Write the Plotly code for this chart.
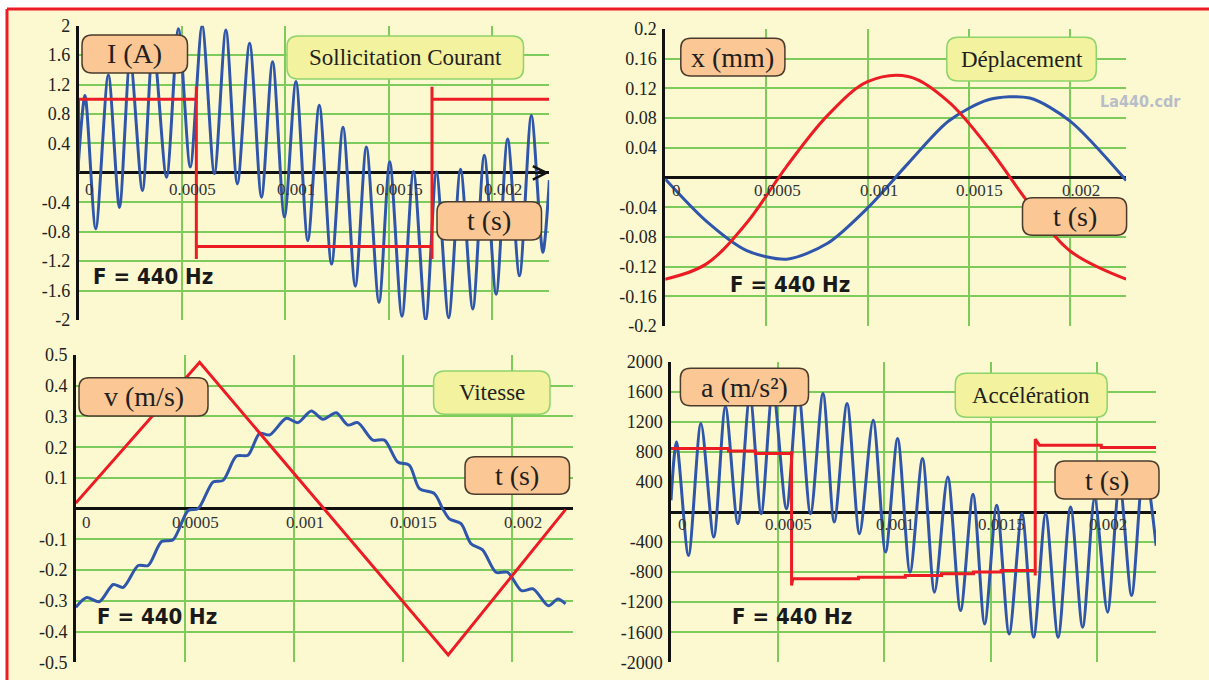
import plotly.graph_objects as go

W, H = 1209, 680

# ---------------------------------------------------------------- data
# I (A) : sollicitation courant
i_t = [0, 0.0000315, 0.0000833, 0.0001444, 0.0001981, 0.00025, 0.0003093, 0.0003611,
       0.0004259, 0.0004833, 0.0005407, 0.0005981, 0.0006574, 0.000713, 0.0007685,
       0.0008278, 0.0008852, 0.0009389, 0.0009963, 0.0010519, 0.0011093, 0.0011648,
       0.0012241, 0.0012796, 0.0013389, 0.0013926, 0.0014537, 0.0015056, 0.0015648,
       0.0016204, 0.0016796, 0.0017315, 0.0017907, 0.0018481, 0.0019074, 0.001963,
       0.0020204, 0.0020759, 0.0021333, 0.0021907, 0.0022463, 0.0022778]
i_blue = [0.15, 1.05, -0.76, 1.33, -0.47, 1.55, -0.24, 1.76, -0.06, 1.96, 0.08, 2.0,
          -0.01, 1.94, -0.15, 1.76, -0.33, 1.51, -0.60, 1.24, -0.92, 0.92, -1.24, 0.62,
          -1.54, 0.35, -1.76, 0.15, -1.95, 0.02, -2.0, 0.01, -1.97, 0.05, -1.85, 0.24,
          -1.65, 0.46, -1.40, 0.78, -1.08, -0.10]
i_red_t = [0, 0, 0.00057, 0.00057, 0.00057, 0.00057, 0.00171, 0.00171, 0.00171, 0.00171, 0.002277]
i_red = [0, 1, 1, 1.17, -1.17, -1, -1, -1.17, 1.17, 1, 1]

# x (mm) : deplacement
x_t = [0, 0.0002, 0.0004, 0.0006, 0.0008, 0.001, 0.0012, 0.0014, 0.0016, 0.0018, 0.002, 0.002277]
x_blue = [-0.002, -0.058, -0.098, -0.110, -0.089, -0.041, 0.019, 0.076, 0.105, 0.107, 0.076, -0.004]
x_red = [-0.137, -0.117, -0.062, 0.015, 0.083, 0.129, 0.136, 0.102, 0.039, -0.036, -0.099, -0.137]

# v (m/s) : vitesse
v_t = [0, 0.0000499, 0.0001076, 0.0001717, 0.0002175, 0.0002862, 0.000332, 0.0003933,
       0.0004464, 0.0005151, 0.0005609, 0.0006296, 0.0006754, 0.0007367, 0.0007898,
       0.0008434, 0.0008892, 0.0009657, 0.0010188, 0.0010801, 0.0011332, 0.0011946,
       0.0012477, 0.0012935, 0.0013622, 0.0014158, 0.0014766, 0.0015302, 0.001576,
       0.0016447, 0.0016827, 0.0017134, 0.0017669, 0.0018127, 0.0018658, 0.0019272,
       0.0019803, 0.0020449, 0.0020975, 0.0021676, 0.0022111, 0.0022463]
v_blue = [-0.321, -0.289, -0.303, -0.247, -0.256, -0.185, -0.185, -0.107, -0.101, -0.006,
          0.0, 0.087, 0.092, 0.171, 0.174, 0.245, 0.240, 0.294, 0.280, 0.318, 0.291, 0.312,
          0.272, 0.280, 0.223, 0.223, 0.152, 0.141, 0.065, 0.049, 0.0, -0.033, -0.049,
          -0.114, -0.134, -0.207, -0.207, -0.267, -0.261, -0.316, -0.294, -0.310]
v_red_t = [0, 0.000568, 0.001708, 0.002246]
v_red = [0.018, 0.476, -0.476, -0.003]

# a (m/s2) : acceleration
a_t = [0, 0.0000255, 0.0000821, 0.0001405, 0.0002007, 0.0002555, 0.0003139, 0.0003704,
       0.0004234, 0.0004781, 0.0005420, 0.0005967, 0.0006551, 0.0007135, 0.0007664,
       0.0008266, 0.0008850, 0.0009489, 0.0010073, 0.0010639, 0.0011223, 0.0011807,
       0.0012372, 0.0012993, 0.0013594, 0.0014179, 0.0014726, 0.0015292, 0.0015876,
       0.0016478, 0.0017026, 0.0017591, 0.0018175, 0.0018759, 0.0019325, 0.0019891,
       0.0020493, 0.0021058, 0.0021624, 0.0022208, 0.0022778]
a_blue = [155, 933, -578, 1178, -333, 1400, -155, 1560, -22, 1650, 44, 1640, -22, 1578,
          -133, 1444, -289, 1222, -533, 978, -800, 711, -1067, 467, -1311, 236, -1489, 89,
          -1622, -22, -1667, -22, -1667, 67, -1533, 178, -1333, 400, -1111, 650, -450]
a_red_t = [0, 0.00027, 0.00027, 0.000396, 0.000396, 0.000566, 0.000566, 0.000566, 0.000572,
           0.00088, 0.00088, 0.0011, 0.0011, 0.00127, 0.00127, 0.00142, 0.00142, 0.00155,
           0.00155, 0.00171, 0.00171, 0.00171, 0.00173, 0.00202, 0.00202, 0.002277]
a_red = [844, 844, 813, 813, 778, 778, 810, -978, -889, -889, -867, -867, -844, -844, -822,
         -822, -800, -800, -778, -778, -844, 969, 889, 889, 858, 858]

# ticks
x_tick_vals = [0, 0.0005, 0.001, 0.0015, 0.002]
x_tick_text = ["0", "0.0005", "0.001", "0.0015", "0.002"]
i_ticks = [2, 1.6, 1.2, 0.8, 0.4, -0.4, -0.8, -1.2, -1.6, -2]
x_ticks = [0.2, 0.16, 0.12, 0.08, 0.04, -0.04, -0.08, -0.12, -0.16, -0.2]
v_ticks = [0.5, 0.4, 0.3, 0.2, 0.1, -0.1, -0.2, -0.3, -0.4, -0.5]
a_ticks = [2000, 1600, 1200, 800, 400, -400, -800, -1200, -1600, -2000]

# ---------------------------------------------------------------- style
BLUE = "#2F56AA"
RED = "#EC1C24"
GRID = "#7DCB5A"
PALE = "#FCF9D0"
ORANGE = "#FAC795"
LIME = "#F3F29E"
SERIF = "Liberation Serif"
BOLD = "DejaVu Sans Condensed"


def px(x):
    return x / W


def py(y):
    return 1 - y / H


def rounded_box(x0, y0, x1, y1, r, fill, line):
    p = (
        f"M {px(x0 + r)},{py(y0)} L {px(x1 - r)},{py(y0)} Q {px(x1)},{py(y0)} {px(x1)},{py(y0 + r)} "
        f"L {px(x1)},{py(y1 - r)} Q {px(x1)},{py(y1)} {px(x1 - r)},{py(y1)} "
        f"L {px(x0 + r)},{py(y1)} Q {px(x0)},{py(y1)} {px(x0)},{py(y1 - r)} "
        f"L {px(x0)},{py(y0 + r)} Q {px(x0)},{py(y0)} {px(x0 + r)},{py(y0)} Z"
    )
    return dict(type="path", path=p, xref="paper", yref="paper", fillcolor=fill,
                line=dict(color=line, width=1.5), layer="above")


def label(x, y, text, size, family=SERIF, color="#231f20"):
    return dict(x=px(x), y=py(y), xref="paper", yref="paper", text=text, showarrow=False,
                xanchor="center", yanchor="middle",
                font=dict(family=family, size=size, color=color))


fig = go.Figure()

# panels: (axis suffix, x domain px, y domain px, y range, y ticks, x label shift)
panels = [
    ("", (78.5, 549.2), (25.7, 320), (-2, 2), i_ticks, -17),
    ("2", (665.2, 1126.2), (29, 326), (-0.2, 0.2), x_ticks, -13),
    ("3", (75.8, 572.9), (355, 662.3), (-0.5, 0.5), v_ticks, -14),
    ("4", (671, 1156), (361.7, 662.3), (-2000, 2000), a_ticks, -12),
]
x_ranges = [0.002277, 0.002277, 0.00228, 0.002277]

series = [
    (i_t, i_blue, i_red_t, i_red),
    (x_t, x_blue, x_t, x_red),
    (v_t, v_blue, v_red_t, v_red),
    (a_t, a_blue, a_red_t, a_red),
]
red_spline = [False, True, False, False]

annotations = []
for k, (sfx, (dx0, dx1), (dy0, dy1), yr, yt, shift) in enumerate(panels):
    xa, ya = "x" + sfx, "y" + sfx
    tb, bb, tr, rr = series[k]
    fig.add_trace(go.Scatter(x=tb, y=bb, mode="lines", xaxis=xa, yaxis=ya,
                             line=dict(color=BLUE, width=3, shape="spline", smoothing=0.8),
                             showlegend=False, hoverinfo="skip"))
    fig.add_trace(go.Scatter(x=tr, y=rr, mode="lines", xaxis=xa, yaxis=ya,
                             line=dict(color=RED, width=3,
                                       shape="spline" if red_spline[k] else "linear"),
                             showlegend=False, hoverinfo="skip"))
    fig.update_layout({
        "xaxis" + sfx: dict(
            domain=[px(dx0), px(dx1)], anchor=ya, range=[0, x_ranges[k]],
            showgrid=True, gridcolor=GRID, gridwidth=1.5,
            tickvals=x_tick_vals[1:], showticklabels=False, ticks="",
            zeroline=False, showline=False, automargin=False, fixedrange=True,
        ),
        "yaxis" + sfx: dict(
            domain=[py(dy1), py(dy0)], anchor=xa, range=list(yr),
            tickvals=yt, ticktext=[f"{v:g}" for v in yt], ticks="",
            showgrid=True, gridcolor=GRID, gridwidth=1.5,
            zeroline=True, zerolinecolor="#111", zerolinewidth=2.5,
            showline=True, linecolor="#111", linewidth=2.5,
            tickfont=dict(family=SERIF, size=18, color="#222"), ticklabelstandoff=2,
            automargin=False, fixedrange=True,
        ),
    })
    for v, txt in zip(x_tick_vals, x_tick_text):
        annotations.append(dict(x=v, y=0, xref=xa, yref=ya, text=txt, showarrow=False,
                                xshift=11, yshift=shift, xanchor="center", yanchor="middle",
                                font=dict(family=SERIF, size=17, color="#333")))

# open arrow head at the end of the time axis (current panel)
annotations.append(dict(x=0.002277, y=0, xref="x", yref="y", ax=-16, ay=0,
                        showarrow=True, arrowhead=5, arrowsize=1.2, arrowwidth=2.2,
                        arrowcolor="#111", text=""))

# pale page with a red edge on top and left only
shapes = [
    dict(type="rect", xref="paper", yref="paper", x0=px(7), x1=1, y0=0, y1=py(9),
         fillcolor=PALE, line=dict(width=0), layer="below"),
    dict(type="line", xref="paper", yref="paper", x0=px(7), x1=1, y0=py(9), y1=py(9),
         line=dict(color=RED, width=3), layer="below"),
    dict(type="line", xref="paper", yref="paper", x0=px(7), x1=px(7), y0=0, y1=py(9),
         line=dict(color=RED, width=3), layer="below"),
]

orange_boxes = [
    ((82, 35, 187.5, 73), "I (A)"),
    ((437, 201.7, 541.5, 240), "t (s)"),
    ((680.8, 38.3, 784.9, 76), "x (mm)"),
    ((1022.5, 197.7, 1126.6, 235.3), "t (s)"),
    ((79, 377.7, 208, 416), "v (m/s)"),
    ((465, 456.7, 569.5, 494.3), "t (s)"),
    ((680.4, 368.3, 808.5, 405.7), "a (m/s²)"),
    ((1055, 461, 1159, 499), "t (s)"),
]
lime_boxes = [
    ((287, 36, 523.5, 79), "Sollicitation Courant"),
    ((946.8, 37.3, 1096.3, 81), "Déplacement"),
    ((433.6, 371, 550, 414.3), "Vitesse"),
    ((955.3, 373.3, 1107.2, 417.3), "Accélération"),
]
for (x0, y0, x1, y1), txt in orange_boxes:
    shapes.append(rounded_box(x0, y0, x1, y1, 10, ORANGE, "#4a3b2c"))
    annotations.append(label((x0 + x1) / 2, (y0 + y1) / 2, txt, 28))
for (x0, y0, x1, y1), txt in lime_boxes:
    shapes.append(rounded_box(x0, y0, x1, y1, 11, LIME, "#8ED46C"))
    annotations.append(label((x0 + x1) / 2, (y0 + y1) / 2, txt, 23))

for cx, cy in [(153, 276), (790, 284), (157, 616.7), (792, 616)]:
    annotations.append(label(cx, cy, "<b>F = 440 Hz</b>", 22, BOLD, "#1a1a1a"))

annotations.append(label(1140, 101.7, "<b>La440.cdr</b>", 16, BOLD, "#B9BDC9"))

fig.update_layout(
    template="none",
    width=W, height=H,
    margin=dict(l=0, r=0, t=0, b=0, autoexpand=False),
    paper_bgcolor="white",
    plot_bgcolor="rgba(0,0,0,0)",
    shapes=shapes,
    annotations=annotations,
)

# the page has no body margin, so the figure fills the window exactly
fig.write_html("out.html", config={"displayModeBar": False},
               post_script="document.body.style.margin = '0';")
